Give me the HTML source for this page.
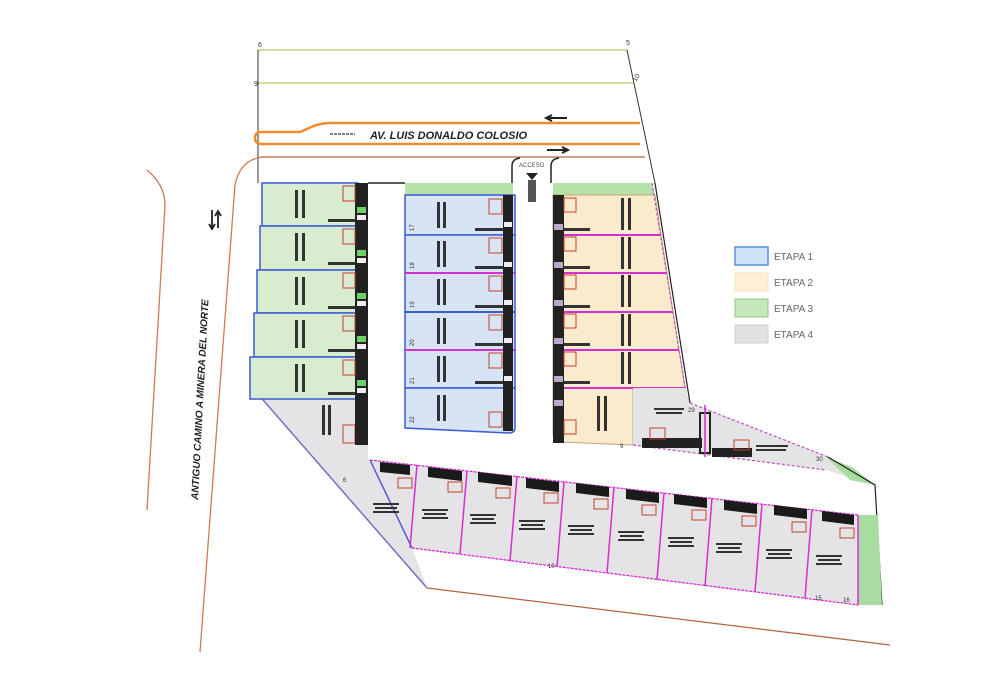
<!DOCTYPE html>
<html><head><meta charset="utf-8"><style>
html,body{margin:0;padding:0;background:#fff;}
svg{display:block;}
text{font-family:"Liberation Sans",sans-serif;}
</style></head><body>
<svg width="1006" height="682" viewBox="0 0 1006 682" xmlns="http://www.w3.org/2000/svg">
<rect width="1006" height="682" fill="#fff"/>
<!-- top lines -->
<line x1="258" y1="50" x2="627" y2="50" stroke="#c8d27a" stroke-width="1.5"/>
<line x1="258" y1="83" x2="634" y2="83" stroke="#c8d27a" stroke-width="1.5"/>
<line x1="258" y1="50" x2="258" y2="183" stroke="#333" stroke-width="1"/>
<line x1="627" y1="50" x2="655" y2="183" stroke="#333" stroke-width="1"/>
<text x="258" y="47" font-size="7" fill="#333">6</text>
<text x="626" y="45" font-size="7" fill="#333">5</text>
<text x="254" y="86" font-size="7" fill="#333">9</text>
<text x="636" y="82" font-size="7" fill="#333" transform="rotate(-60 636 82)">10</text>
<!-- orange avenue -->
<path d="M640 123 L330 123 Q318 123 305 130 L300 132 L262 132 Q255 132 255 138 Q255 144 262 144 L640 144" fill="none" stroke="#f08a2a" stroke-width="2.5"/>
<line x1="262" y1="157" x2="645" y2="157" stroke="#b5643c" stroke-width="1.2"/>
<line x1="330" y1="134" x2="355" y2="134" stroke="#555" stroke-width="1.5" stroke-dasharray="3,1"/>
<text x="370" y="139" font-size="11" font-weight="bold" font-style="italic" fill="#222" font-family="Liberation Serif,serif">AV. LUIS DONALDO COLOSIO</text>
<path d="M567 118 L547 118 M552 115 L546 118 L552 121" stroke="#222" stroke-width="2" fill="none"/>
<path d="M547 150 L567 150 M562 147 L568 150 L562 153" stroke="#222" stroke-width="2" fill="none"/>
<!-- acceso -->
<path d="M512 183 L512 166 Q512 159 520 158 M551 183 L551 166 Q551 159 559 158" stroke="#222" stroke-width="1.5" fill="none"/>
<text x="519" y="167" font-size="6" fill="#555">ACCESO</text>
<path d="M526 173 L538 173 L532 180 Z" fill="#222"/>
<rect x="528" y="180" width="8" height="22" fill="#555"/>
<line x1="368" y1="183" x2="405" y2="183" stroke="#222" stroke-width="1.5"/>
<!-- antiguo camino -->
<path d="M262 157 Q240 160 235 185 L200 652" stroke="#d07a50" stroke-width="1.3" fill="none"/>
<path d="M147 170 Q165 185 165 205 L147 510" stroke="#d07a50" stroke-width="1.3" fill="none"/>
<path d="M212 210 L212 228 M209 224 L212 229 L215 224 M218 228 L218 212 M215 216 L218 211 L221 216" stroke="#222" stroke-width="1.8" fill="none"/>
<text x="0" y="0" font-size="10" font-weight="bold" font-style="italic" fill="#222" font-family="Liberation Serif,serif" transform="translate(198 500) rotate(-87)">ANTIGUO CAMINO A MINERA DEL NORTE</text>
<!-- lot 6 gray -->
<polygon points="250,385 258,399 368,399 368,458 412,548 427,588" fill="#e4e4e6"/>
<line x1="250" y1="385" x2="427" y2="588" stroke="#7a6db8" stroke-width="1.5"/>
<!-- left green block -->
<rect x="262" y="183" width="96" height="43" fill="#d8ecd0" stroke="#3b5bd6" stroke-width="1.5"/>
<rect x="260" y="226" width="98" height="44" fill="#d8ecd0" stroke="#3b5bd6" stroke-width="1.5"/>
<rect x="257" y="270" width="101" height="43" fill="#d8ecd0" stroke="#3b5bd6" stroke-width="1.5"/>
<rect x="254" y="313" width="104" height="44" fill="#d8ecd0" stroke="#3b5bd6" stroke-width="1.5"/>
<rect x="250" y="357" width="108" height="42" fill="#d8ecd0" stroke="#3b5bd6" stroke-width="1.5"/>
<rect x="355" y="183" width="13" height="217" fill="#222"/>
<g fill="#6fcf6a"><rect x="357" y="207" width="9" height="6"/><rect x="357" y="250" width="9" height="6"/><rect x="357" y="293" width="9" height="6"/><rect x="357" y="336" width="9" height="6"/><rect x="357" y="380" width="9" height="6"/></g>
<g fill="#eee"><rect x="357" y="215" width="9" height="5"/><rect x="357" y="258" width="9" height="5"/><rect x="357" y="301" width="9" height="5"/><rect x="357" y="344" width="9" height="5"/><rect x="357" y="388" width="9" height="5"/></g>
<g fill="none" stroke="#c0432a" stroke-width="1"><rect x="343" y="186" width="12" height="15"/><rect x="343" y="229" width="12" height="15"/><rect x="343" y="273" width="12" height="15"/><rect x="343" y="316" width="12" height="15"/><rect x="343" y="360" width="12" height="15"/></g>
<g fill="#333"><rect x="328" y="219" width="27" height="3"/><rect x="328" y="262" width="27" height="3"/><rect x="328" y="306" width="27" height="3"/><rect x="328" y="349" width="27" height="3"/><rect x="328" y="392" width="27" height="3"/></g>
<g fill="#333"><rect x="295" y="190" width="3" height="28"/><rect x="302" y="190" width="3" height="28"/><rect x="295" y="233" width="3" height="28"/><rect x="302" y="233" width="3" height="28"/><rect x="295" y="277" width="3" height="28"/><rect x="302" y="277" width="3" height="28"/><rect x="295" y="320" width="3" height="28"/><rect x="302" y="320" width="3" height="28"/><rect x="295" y="364" width="3" height="28"/><rect x="302" y="364" width="3" height="28"/></g>
<rect x="343" y="425" width="12" height="18" fill="none" stroke="#c0432a"/>
<rect x="355" y="400" width="13" height="45" fill="#222"/>
<g fill="#333"><rect x="322" y="405" width="3" height="30"/><rect x="328" y="405" width="3" height="30"/></g>
<!-- middle blue block -->
<rect x="405" y="183" width="108" height="12" fill="#b6e2a8"/>
<g stroke="#3b5bd6" stroke-width="1.5" fill="#d6e4f4">
<rect x="405" y="195" width="110" height="40"/>
<rect x="405" y="235" width="110" height="38"/>
<rect x="405" y="273" width="110" height="39"/>
<rect x="405" y="312" width="110" height="38"/>
<rect x="405" y="350" width="110" height="38"/>
<path d="M405 388 L515 388 L515 428 Q515 433 508 433 L405 428 Z"/>
</g>
<line x1="405" y1="273" x2="515" y2="273" stroke="#d52fd0" stroke-width="2"/>
<line x1="405" y1="312" x2="515" y2="312" stroke="#3b5bd6" stroke-width="2"/>
<line x1="405" y1="350" x2="515" y2="350" stroke="#d52fd0" stroke-width="2"/>
<rect x="503" y="195" width="10" height="236" fill="#222"/>
<g fill="#eee"><rect x="504" y="222" width="8" height="5"/><rect x="504" y="262" width="8" height="5"/><rect x="504" y="300" width="8" height="5"/><rect x="504" y="338" width="8" height="5"/><rect x="504" y="376" width="8" height="5"/></g>
<g fill="none" stroke="#c0432a"><rect x="489" y="199" width="13" height="15"/><rect x="489" y="238" width="13" height="15"/><rect x="489" y="276" width="13" height="15"/><rect x="489" y="315" width="13" height="15"/><rect x="489" y="353" width="13" height="15"/><rect x="489" y="412" width="13" height="15"/></g>
<g fill="#333"><rect x="475" y="228" width="28" height="3"/><rect x="475" y="266" width="28" height="3"/><rect x="475" y="305" width="28" height="3"/><rect x="475" y="343" width="28" height="3"/><rect x="475" y="381" width="28" height="3"/></g>
<g fill="#333"><rect x="437" y="202" width="3" height="26"/><rect x="443" y="202" width="3" height="26"/><rect x="437" y="241" width="3" height="26"/><rect x="443" y="241" width="3" height="26"/><rect x="437" y="279" width="3" height="26"/><rect x="443" y="279" width="3" height="26"/><rect x="437" y="318" width="3" height="26"/><rect x="443" y="318" width="3" height="26"/><rect x="437" y="356" width="3" height="26"/><rect x="443" y="356" width="3" height="26"/><rect x="437" y="395" width="3" height="26"/><rect x="443" y="395" width="3" height="26"/></g>
<g font-size="6" fill="#333"><text x="407" y="232" transform="rotate(-90 410 228)">17</text><text x="407" y="270" transform="rotate(-90 410 266)">18</text><text x="407" y="309" transform="rotate(-90 410 305)">19</text><text x="407" y="347" transform="rotate(-90 410 343)">20</text><text x="407" y="385" transform="rotate(-90 410 381)">21</text><text x="407" y="424" transform="rotate(-90 410 420)">22</text></g>
<!-- right yellow block -->
<polygon points="553,183 652,183 655,195 553,195" fill="#b6e2a8"/>
<g fill="#fbebcd" stroke="#c9a07a" stroke-width="1">
<polygon points="553,195 655,195 661,235 553,235"/>
<polygon points="553,235 661,235 667,273 553,273"/>
<polygon points="553,273 667,273 673,312 553,312"/>
<polygon points="553,312 673,312 679,350 553,350"/>
<polygon points="553,350 679,350 685,388 553,388"/>
<path d="M553 388 L633 388 L633 445 L560 442 Q553 440 553 433 Z"/>
</g>
<g stroke="#d52fd0" stroke-width="2"><line x1="553" y1="235" x2="661" y2="235"/><line x1="553" y1="273" x2="667" y2="273"/><line x1="553" y1="312" x2="673" y2="312"/><line x1="553" y1="350" x2="679" y2="350"/><line x1="553" y1="388" x2="685" y2="388"/></g>
<line x1="652" y1="183" x2="688" y2="405" stroke="#c050c0" stroke-width="1.2" stroke-dasharray="3,2"/>
<rect x="553" y="195" width="11" height="248" fill="#222"/>
<g fill="#b9a9c6"><rect x="554" y="224" width="9" height="6"/><rect x="554" y="262" width="9" height="6"/><rect x="554" y="300" width="9" height="6"/><rect x="554" y="338" width="9" height="6"/><rect x="554" y="376" width="9" height="6"/><rect x="554" y="400" width="9" height="6"/></g>
<g fill="none" stroke="#c0432a"><rect x="564" y="198" width="12" height="14"/><rect x="564" y="237" width="12" height="14"/><rect x="564" y="275" width="12" height="14"/><rect x="564" y="314" width="12" height="14"/><rect x="564" y="352" width="12" height="14"/><rect x="564" y="420" width="12" height="14"/></g>
<g fill="#333"><rect x="564" y="228" width="26" height="3"/><rect x="564" y="266" width="26" height="3"/><rect x="564" y="305" width="26" height="3"/><rect x="564" y="343" width="26" height="3"/><rect x="564" y="381" width="26" height="3"/></g>
<g fill="#333"><rect x="621" y="198" width="3" height="32"/><rect x="628" y="198" width="3" height="32"/><rect x="621" y="237" width="3" height="32"/><rect x="628" y="237" width="3" height="32"/><rect x="621" y="275" width="3" height="32"/><rect x="628" y="275" width="3" height="32"/><rect x="621" y="314" width="3" height="32"/><rect x="628" y="314" width="3" height="32"/><rect x="621" y="352" width="3" height="32"/><rect x="628" y="352" width="3" height="32"/><rect x="597" y="396" width="3" height="35"/><rect x="604" y="396" width="3" height="35"/></g>
<!-- right gray lots -->
<polygon points="633,388 685,388 690,403 828,457 850,478 826,470 633,445" fill="#e4e4e6"/>
<path d="M690 403 L828 457 L875 485" stroke="#c050c0" stroke-width="1.2" stroke-dasharray="3,2" fill="none"/>
<line x1="633" y1="445" x2="826" y2="470" stroke="#c050c0" stroke-width="1.2" stroke-dasharray="3,2"/>
<polygon points="826,457 852,467 875,485 850,480" fill="#a8dca0"/>
<rect x="642" y="438" width="60" height="10" fill="#222"/>
<rect x="712" y="448" width="40" height="9" fill="#222"/>
<rect x="700" y="413" width="10" height="40" fill="none" stroke="#222" stroke-width="2"/>
<line x1="705" y1="405" x2="705" y2="457" stroke="#d52fd0" stroke-width="1.5"/>
<rect x="650" y="428" width="15" height="11" fill="none" stroke="#c0432a"/>
<rect x="734" y="440" width="15" height="10" fill="none" stroke="#c0432a"/>
<g fill="#333"><rect x="654" y="408" width="30" height="2"/><rect x="656" y="412" width="26" height="2"/><rect x="756" y="445" width="32" height="2"/><rect x="756" y="449" width="30" height="2"/></g>
<!-- outer black -->
<path d="M655 183 L690 403 M828 457 L875 485 L882 605" stroke="#222" stroke-width="1.2" fill="none"/>
<!-- bottom row -->
<polygon points="370,460 858,515 858,605 412,548" fill="#e4e4e6"/>
<polygon points="858,515 878,515 882,605 858,605" fill="#a8dca0"/>
<line x1="370" y1="460" x2="858" y2="515" stroke="#d52fd0" stroke-width="1.3" stroke-dasharray="3,1"/>
<line x1="412" y1="548" x2="858" y2="605" stroke="#d52fd0" stroke-width="1.3" stroke-dasharray="3,1"/>
<line x1="370" y1="460" x2="412" y2="548" stroke="#5a5ad6" stroke-width="1.5"/>
<g stroke="#d52fd0" stroke-width="1.5">
<line x1="417" y1="465" x2="410" y2="548"/>
<line x1="467" y1="471" x2="460" y2="554"/>
<line x1="517" y1="476" x2="510" y2="561"/>
<line x1="564" y1="482" x2="557" y2="567"/>
<line x1="614" y1="487" x2="607" y2="573"/>
<line x1="664" y1="493" x2="657" y2="580"/>
<line x1="712" y1="498" x2="705" y2="586"/>
<line x1="762" y1="504" x2="755" y2="592"/>
<line x1="812" y1="509" x2="805" y2="598"/>
<line x1="858" y1="515" x2="858" y2="605"/>
</g>
<g fill="#1a1a1a">
<polygon points="380,462 410,465 410,475 380,472"/>
<polygon points="428,467 462,471 462,481 428,477"/>
<polygon points="478,472 512,476 512,486 478,482"/>
<polygon points="526,478 559,482 559,492 526,488"/>
<polygon points="576,483 609,487 609,497 576,493"/>
<polygon points="626,489 659,493 659,503 626,499"/>
<polygon points="674,494 707,498 707,508 674,504"/>
<polygon points="724,500 757,504 757,514 724,510"/>
<polygon points="774,505 807,509 807,519 774,515"/>
<polygon points="822,511 854,515 854,525 822,521"/>
</g>
<g fill="none" stroke="#c0432a"><rect x="398" y="478" width="14" height="10"/><rect x="448" y="482" width="14" height="10"/><rect x="496" y="488" width="14" height="10"/><rect x="544" y="493" width="14" height="10"/><rect x="594" y="499" width="14" height="10"/><rect x="642" y="505" width="14" height="10"/><rect x="692" y="510" width="14" height="10"/><rect x="742" y="516" width="14" height="10"/><rect x="792" y="522" width="14" height="10"/><rect x="840" y="528" width="14" height="10"/></g>
<g fill="#333">
<rect x="373" y="503" width="26" height="2"/><rect x="375" y="507" width="22" height="2"/><rect x="373" y="511" width="26" height="2"/>
<rect x="422" y="509" width="26" height="2"/><rect x="424" y="513" width="22" height="2"/><rect x="422" y="517" width="26" height="2"/>
<rect x="470" y="514" width="26" height="2"/><rect x="472" y="518" width="22" height="2"/><rect x="470" y="522" width="26" height="2"/>
<rect x="519" y="520" width="26" height="2"/><rect x="521" y="524" width="22" height="2"/><rect x="519" y="528" width="26" height="2"/>
<rect x="568" y="525" width="26" height="2"/><rect x="570" y="529" width="22" height="2"/><rect x="568" y="533" width="26" height="2"/>
<rect x="618" y="531" width="26" height="2"/><rect x="620" y="535" width="22" height="2"/><rect x="618" y="539" width="26" height="2"/>
<rect x="668" y="537" width="26" height="2"/><rect x="670" y="541" width="22" height="2"/><rect x="668" y="545" width="26" height="2"/>
<rect x="716" y="543" width="26" height="2"/><rect x="718" y="547" width="22" height="2"/><rect x="716" y="551" width="26" height="2"/>
<rect x="766" y="549" width="26" height="2"/><rect x="768" y="553" width="22" height="2"/><rect x="766" y="557" width="26" height="2"/>
<rect x="816" y="555" width="26" height="2"/><rect x="818" y="559" width="22" height="2"/><rect x="816" y="563" width="26" height="2"/>
</g>
<g font-size="6" fill="#333"><text x="343" y="482">6</text><text x="548" y="568">10</text><text x="815" y="600">15</text><text x="843" y="602">16</text><text x="816" y="461">30</text><text x="688" y="412">29</text><text x="620" y="448">9</text></g>
<!-- bottom boundary -->
<line x1="427" y1="588" x2="890" y2="645" stroke="#b5643c" stroke-width="1.3"/>
<!-- legend -->
<rect x="735" y="247" width="33" height="18" fill="#cfe3f7" stroke="#5b8fd6" stroke-width="1.5"/>
<rect x="735" y="273" width="33" height="18" fill="#fdf0d6" stroke="#f3e2b8" stroke-width="1"/>
<rect x="735" y="299" width="33" height="18" fill="#c4e8bc" stroke="#8bc47e" stroke-width="1"/>
<rect x="735" y="325" width="33" height="18" fill="#e2e2e4" stroke="#d0d0d2" stroke-width="1"/>
<g font-size="10" fill="#666"><text x="774" y="260">ETAPA 1</text><text x="774" y="286">ETAPA 2</text><text x="774" y="312">ETAPA 3</text><text x="774" y="338">ETAPA 4</text></g>
</svg>
</body></html>
